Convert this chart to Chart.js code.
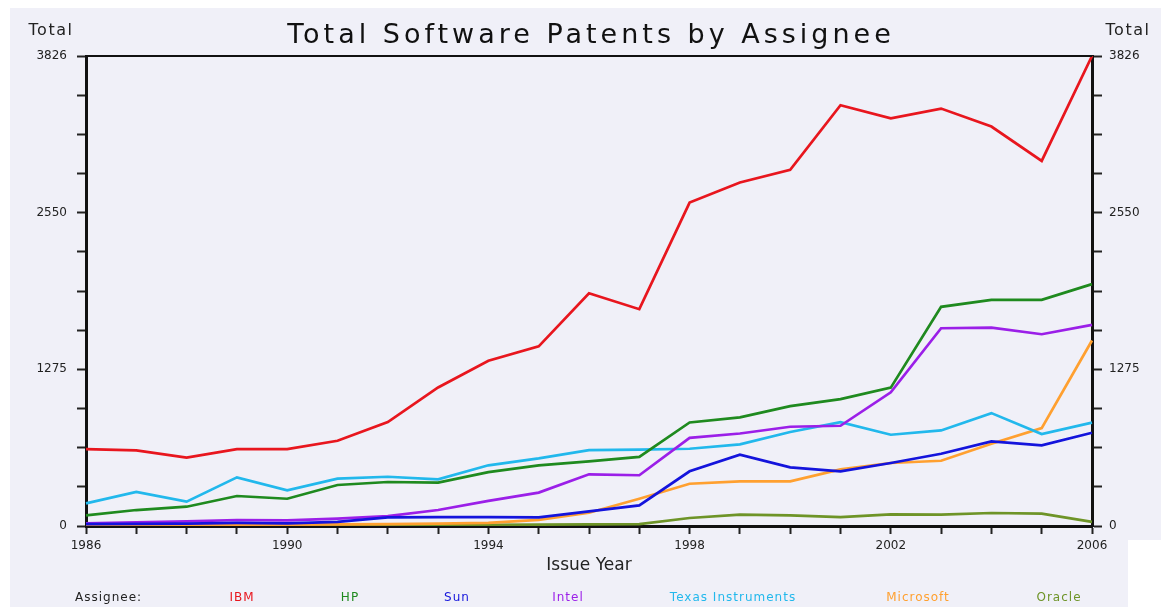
<!DOCTYPE html>
<html lang="en">
<head>
  <meta charset="UTF-8" />
  <title>Total Software Patents by Assignee</title>
  <script src="https://cdn.jsdelivr.net/npm/chart.js"></script>
  <style>
    html, body { margin: 0; padding: 0; background: #fff; }
    #wrap { position: relative; width: 1161px; height: 607px; }
  </style>
</head>
<body>
  <div id="wrap"><canvas id="patentsChart"></canvas></div>

  <script>
    // data
    const years = ['1986', '1987', '1988', '1989', '1990', '1991', '1992', '1993', '1994', '1995', '1996',
      '1997', '1998', '1999', '2000', '2001', '2002', '2003', '2004', '2005', '2006'];
    const assignees = ['IBM', 'HP', 'Sun', 'Intel', 'Texas Instruments', 'Microsoft', 'Oracle'];
    const colors = ['#E8161E', '#1F8A1F', '#1414DC', '#9B1FE8', '#22B8EC', '#FFA030', '#6E9428'];

    const ibm = [626, 616, 556, 626, 626, 694, 846, 1128, 1345, 1462, 1895, 1765, 2633, 2796, 2899, 3425, 3319, 3398, 3252, 2972, 3826];
    const hp = [87, 130, 157, 244, 222, 334, 358, 353, 439, 494, 526, 563, 843, 884, 976, 1033, 1126, 1784, 1841, 1841, 1969];
    const sun = [15, 18, 20, 25, 22, 33, 70, 73, 73, 70, 119, 168, 445, 580, 477, 445, 513, 588, 689, 656, 759];
    const intel = [22, 30, 38, 49, 45, 60, 80, 130, 204, 272, 421, 413, 718, 753, 808, 816, 1088, 1610, 1615, 1561, 1637];
    const ti = [184, 277, 198, 396, 290, 385, 401, 380, 494, 550, 618, 621, 629, 664, 765, 846, 743, 778, 919, 748, 841];
    const microsoft = [5, 6, 8, 10, 12, 14, 16, 20, 25, 50, 108, 222, 344, 363, 363, 461, 513, 531, 670, 797, 1510];
    const oracle = [10, 10, 10, 10, 10, 10, 10, 10, 10, 12, 14, 16, 65, 92, 87, 73, 95, 92, 106, 100, 33];

    const yMax = 3826;
    const yTickLabels = ['0', '1275', '2550', '3826'];
    const series = [ibm, hp, sun, intel, ti, microsoft, oracle];

    Chart.defaults.font.family = "'DejaVu Sans', sans-serif";

    // background, top border, title, "Total" labels and the legend row
    const decor = {
      id: 'decor',
      beforeDraw(chart) {
        const ctx = chart.ctx;
        ctx.save();
        ctx.fillStyle = '#F0F0F8';
        ctx.fillRect(10, 8, chart.width - 10, chart.height - 8);
        ctx.fillStyle = '#fff';
        ctx.fillRect(1128, 540, chart.width - 1128, chart.height - 540);
        ctx.restore();
      },
      afterDraw(chart) {
        const { ctx, chartArea } = chart;
        ctx.save();
        ctx.strokeStyle = '#111';
        ctx.lineWidth = 2;
        ctx.beginPath();
        ctx.moveTo(chartArea.left, chartArea.top);
        ctx.lineTo(chartArea.right, chartArea.top);
        ctx.stroke();

        ctx.fillStyle = '#111';
        ctx.textAlign = 'center';
        ctx.textBaseline = 'middle';
        ctx.font = "27px 'DejaVu Sans'";
        ctx.letterSpacing = '4px';
        ctx.fillText('Total Software Patents by Assignee', (chartArea.left + chartArea.right) / 2 + 2, 36);

        ctx.font = "16px 'DejaVu Sans'";
        ctx.letterSpacing = '1.5px';
        ctx.fillStyle = '#222';
        ctx.fillText('Total', 51, 31);
        ctx.fillText('Total', 1128, 31);

        ctx.font = "12px 'DejaVu Sans'";
        ctx.letterSpacing = '1px';
        ctx.textAlign = 'left';
        ctx.fillText('Assignee:', 75, 598);
        const legendCenters = [242, 350, 457, 568, 733, 918, 1059];
        ctx.textAlign = 'center';
        for (let i = 0; i < assignees.length; i++) {
          ctx.fillStyle = colors[i];
          ctx.fillText(assignees[i], legendCenters[i], 598);
        }
        ctx.restore();
      }
    };

    function yTicks(scale) {
      const ticks = [];
      for (let i = 0; i <= 12; i++) ticks.push({ value: yMax * i / 12 });
      scale.ticks = ticks;
    }

    function yLabel(value, index) {
      return index % 4 === 0 ? yTickLabels[index / 4] : '';
    }

    const ctx = document.getElementById('patentsChart').getContext('2d');

    const patentsChart = new Chart(ctx, {
      type: 'line',
      data: {
        labels: years,
        datasets: series.map((data, i) => ({
          label: assignees[i],
          data: data,
          borderColor: colors[i],
          backgroundColor: colors[i],
          borderWidth: 2.7,
          pointRadius: 0,
          tension: 0,
          fill: false,
          yAxisID: 'y'
        }))
      },
      options: {
        responsive: true,
        maintainAspectRatio: false,
        animation: false,
        layout: { padding: { top: 56, bottom: 31, left: 0, right: 0 } },
        plugins: {
          legend: { display: false },
          title: { display: false },
          tooltip: { enabled: false }
        },
        scales: {
          x: {
            type: 'category',
            grid: { drawOnChartArea: false, drawTicks: true, tickLength: 8, tickColor: '#222', tickWidth: 2 },
            border: { display: true, color: '#111', width: 3 },
            ticks: {
              autoSkip: false,
              maxRotation: 0,
              padding: 5,
              color: '#222',
              font: { size: 12 },
              callback: function (value, index) {
                return index % 4 === 0 ? this.getLabelForValue(value) : '';
              }
            },
            title: {
              display: true,
              text: 'Issue Year',
              color: '#222',
              font: { size: 17 },
              padding: { top: 0, bottom: 0 }
            },
            afterFit: (s) => { s.height = 50; }
          },
          y: {
            position: 'left',
            min: 0,
            max: yMax,
            afterBuildTicks: yTicks,
            grid: { drawOnChartArea: false, drawTicks: true, tickLength: 9, tickColor: '#222', tickWidth: 2 },
            border: { display: true, color: '#111', width: 3 },
            ticks: { padding: 10, color: '#222', font: { size: 12 }, callback: yLabel },
            afterFit: (s) => { s.width = 86; }
          },
          y2: {
            position: 'right',
            min: 0,
            max: yMax,
            afterBuildTicks: yTicks,
            grid: { drawOnChartArea: false, drawTicks: true, tickLength: 10, tickColor: '#222', tickWidth: 2 },
            border: { display: true, color: '#111', width: 3 },
            ticks: { padding: 7, color: '#222', font: { size: 12 }, callback: yLabel },
            afterFit: (s) => { s.width = 69; }
          }
        }
      },
      plugins: [decor]
    });
  </script>
</body>
</html>
